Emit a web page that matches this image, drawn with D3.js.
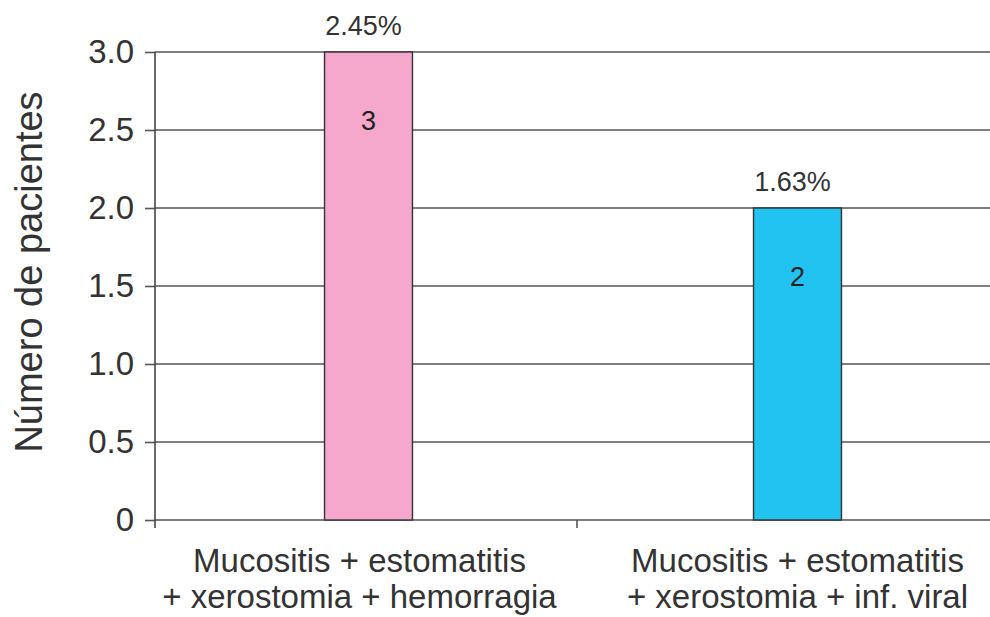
<!DOCTYPE html>
<html>
<head>
<meta charset="utf-8">
<script src="https://cdn.jsdelivr.net/npm/d3@7/dist/d3.min.js"></script>
<style>
  html, body { margin: 0; padding: 0; background: #fff; }
  svg { display: block; font-family: "Liberation Sans", Arial, Helvetica, sans-serif; }
</style>
</head>
<body>
<svg id="chart" width="990" height="617"></svg>
<script>
// Combinaciones de complicaciones y número de pacientes
const categories = [
  ["Mucositis + estomatitis", "+ xerostomia + hemorragia"],
  ["Mucositis + estomatitis", "+ xerostomia + inf. viral"]
];
const patients = [3, 2];
const percents = ["2.45%", "1.63%"];
const barColors = ["#f5a8cb", "#22c3f0"];
const yTicks = [0, 0.5, 1.0, 1.5, 2.0, 2.5, 3.0];
const yTickLabels = ["0", "0.5", "1.0", "1.5", "2.0", "2.5", "3.0"];

const svg = d3.select("#chart");
const plotLeft = 155, plotRight = 990, plotTop = 52, plotBottom = 520;

const x = d3.scaleBand()
  .domain(d3.range(categories.length))
  .range([plotLeft - 1, 1012])
  .paddingInner(0)
  .paddingOuter(0);
const barW = x.bandwidth() * 0.205;
const cx = i => x(i) + x.bandwidth() / 2;

const y = d3.scaleLinear().domain([0, 3]).range([plotBottom, plotTop]);

// short ticks left of the axis with their labels
const yAxis = d3.axisLeft(y)
  .tickValues(yTicks)
  .tickFormat((d, i) => yTickLabels[i])
  .tickSize(10)
  .tickPadding(11);

const gy = svg.append("g").attr("transform", `translate(${plotLeft},0)`).call(yAxis);
gy.select(".domain").remove();
gy.selectAll(".tick line").attr("stroke", "#555").attr("stroke-width", 1.6);
gy.selectAll(".tick text")
  .attr("fill", "#333")
  .attr("font-family", null)
  .attr("font-size", null)
  .style("font-size", "33px");

// horizontal gridlines
svg.append("g").selectAll("line.grid")
  .data(yTicks)
  .join("line")
  .attr("class", "grid")
  .attr("x1", plotLeft).attr("x2", plotRight)
  .attr("y1", d => y(d)).attr("y2", d => y(d))
  .attr("stroke", "#555").attr("stroke-width", 1.6);

// vertical axis line, extending a little below zero
svg.append("line")
  .attr("x1", plotLeft).attr("x2", plotLeft)
  .attr("y1", plotTop).attr("y2", plotBottom + 8)
  .attr("stroke", "#444").attr("stroke-width", 1.6);

// category divider tick on the baseline
svg.append("line")
  .attr("x1", 577).attr("x2", 577)
  .attr("y1", plotBottom).attr("y2", plotBottom + 8)
  .attr("stroke", "#555").attr("stroke-width", 1.6);

// bars
svg.append("g").selectAll("rect")
  .data(patients)
  .join("rect")
  .attr("x", (d, i) => cx(i) - barW / 2)
  .attr("width", barW)
  .attr("y", d => y(d))
  .attr("height", d => y(0) - y(d))
  .attr("fill", (d, i) => barColors[i])
  .attr("stroke", "#333")
  .attr("stroke-width", 1.4);

// counts inside bars
svg.append("g").selectAll("text")
  .data(patients)
  .join("text")
  .attr("x", (d, i) => cx(i))
  .attr("y", d => y(d) + 78)
  .attr("text-anchor", "middle")
  .attr("fill", "#222")
  .style("font-size", "27px")
  .text(d => d);

// percentages above bars
svg.append("g").selectAll("text")
  .data(patients)
  .join("text")
  .attr("x", (d, i) => cx(i) - 5)
  .attr("y", d => y(d) - 17)
  .attr("text-anchor", "middle")
  .attr("fill", "#333")
  .style("font-size", "27px")
  .text((d, i) => percents[i]);

// category labels
const cat = svg.append("g").selectAll("text")
  .data(categories)
  .join("text")
  .attr("text-anchor", "middle")
  .attr("fill", "#333")
  .style("font-size", "33px");
cat.selectAll("tspan")
  .data((d, i) => d.map(t => ({ t, i })))
  .join("tspan")
  .attr("x", d => cx(d.i) + (d.i === 0 ? -9 : 0))
  .attr("y", (d, j) => 572 + j * 36)
  .text(d => d.t);

// y-axis title
svg.append("text")
  .attr("transform", `translate(42,272) rotate(-90)`)
  .attr("text-anchor", "middle")
  .attr("fill", "#333")
  .style("font-size", "38px")
  .text("Número de pacientes");
</script>
</body>
</html>
